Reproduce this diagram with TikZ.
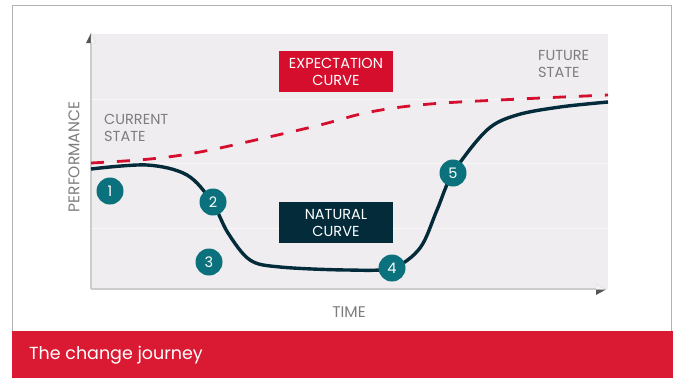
\documentclass[tikz,border=0pt]{standalone}
\usepackage{fontspec}
\setmainfont{Poppins}
\newfontfamily\labelfont{Poppins}
\usetikzlibrary{arrows.meta, positioning}
\definecolor{chartbg}{HTML}{EFEDEF}
\definecolor{journeyred}{HTML}{DA1A32}
\definecolor{expectred}{HTML}{D50E2E}
\definecolor{naturalblue}{HTML}{032B3A}
\definecolor{stepteal}{HTML}{0B717C}
\definecolor{labelgray}{HTML}{7D7D7D}
\definecolor{tipdark}{HTML}{555555}
\definecolor{tiplight}{HTML}{F4F4F4}
\tikzstyle{badge} = [circle, fill=stepteal, text=white, minimum size=27pt, inner sep=0pt, font=\labelfont\fontsize{14.5}{14.5}\selectfont]
\tikzstyle{curvebox} = [rectangle, minimum width=114pt, minimum height=41pt, text=white, align=center, font=\labelfont\fontsize{14.5}{17}\selectfont]
\tikzstyle{statelabel} = [align=left, text=labelgray, inner sep=0pt, font=\labelfont\fontsize{14.5}{17}\selectfont]
\tikzstyle{axislabel} = [text=labelgray, inner sep=0pt, font=\labelfont\fontsize{15.5}{15.5}\selectfont]
\tikzstyle{axis} = [draw=gray!40, line width=1.8pt]

\begin{document}
\begin{tikzpicture}[x=1pt, y=-1pt]
		\useasboundingbox (0,0) rectangle (673,378);
		% frame and chart area
		\draw[gray!60, line width=0.8pt] (12,378) -- (12,5) -- (671.5,5) -- (671.5,378);
		\fill[chartbg] (91,34) rectangle (608,289);
		\foreach \gy in {99,163,228}
			\draw[white!60!chartbg, line width=0.7pt] (91,\gy) -- (608,\gy);

		\coordinate (origin) at (91,289);
		\coordinate (ytop) at (91,40);
		\coordinate (xend) at (600,289);
		\draw[axis] (origin) -- (ytop);
		\draw[axis] (origin) -- (xend);
		% arrow tips, shaded in two halves
		\fill[tipdark] (91,33) -- (86,43) -- (91,43) -- cycle;
		\filldraw[fill=tiplight, draw=gray!30, line width=0.4pt] (91,33) -- (96,43) -- (91,43) -- cycle;
		\filldraw[fill=tiplight, draw=gray!30, line width=0.4pt] (606,289.5) -- (596,284) -- (596,289.5) -- cycle;
		\fill[tipdark] (606,289.5) -- (596,295) -- (596,289.5) -- cycle;

		\node (perf) [axislabel, rotate=90] at (74,157) {PERFORMANCE};
		\node (time) [axislabel] at (349,312) {TIME};

		% curves
		\draw[expectred, line width=2.8pt, dash pattern=on 13pt off 13pt] plot[smooth, tension=0.6] coordinates {
			(91,163) (150,159) (200,152) (260,139) (320,125) (370,112)
			(430,104) (520,99) (608,95)};
		\draw[naturalblue, line width=3.4pt] plot[smooth, tension=0.55] coordinates {
			(91,169) (147,165) (187,175) (212,202) (228,233) (250,260)
			(280,267) (347,270) (392,268) (420,248) (437,210) (453,173)
			(487,130) (517,115) (560,107) (608,102)};

		% labels
		\node (current) [statelabel, anchor=north west] at (104,114) {CURRENT\\STATE};
		\node (future) [statelabel, anchor=north west] at (538,50) {FUTURE\\STATE};
		\node (expect) [curvebox, fill=expectred] at (336,71.5) {EXPECTATION\\CURVE};
		\node (natural) [curvebox, fill=naturalblue] at (336,222.5) {NATURAL\\CURVE};

		% steps
		\node (b1) [badge] at (110,191) {1};
		\node (b2) [badge] at (213,202) {2};
		\node (b3) [badge] at (209,262) {3};
		\node (b4) [badge] at (392,268) {4};
		\node (b5) [badge] at (453,173) {5};

		% title band
		\fill[journeyred] (12,331) rectangle (673,378);
		\node (title) [anchor=west, text=white, inner sep=0pt, font=\fontsize{17.5}{17.5}\selectfont] at (29,355) {The change journey};
\end{tikzpicture}
\end{document}
